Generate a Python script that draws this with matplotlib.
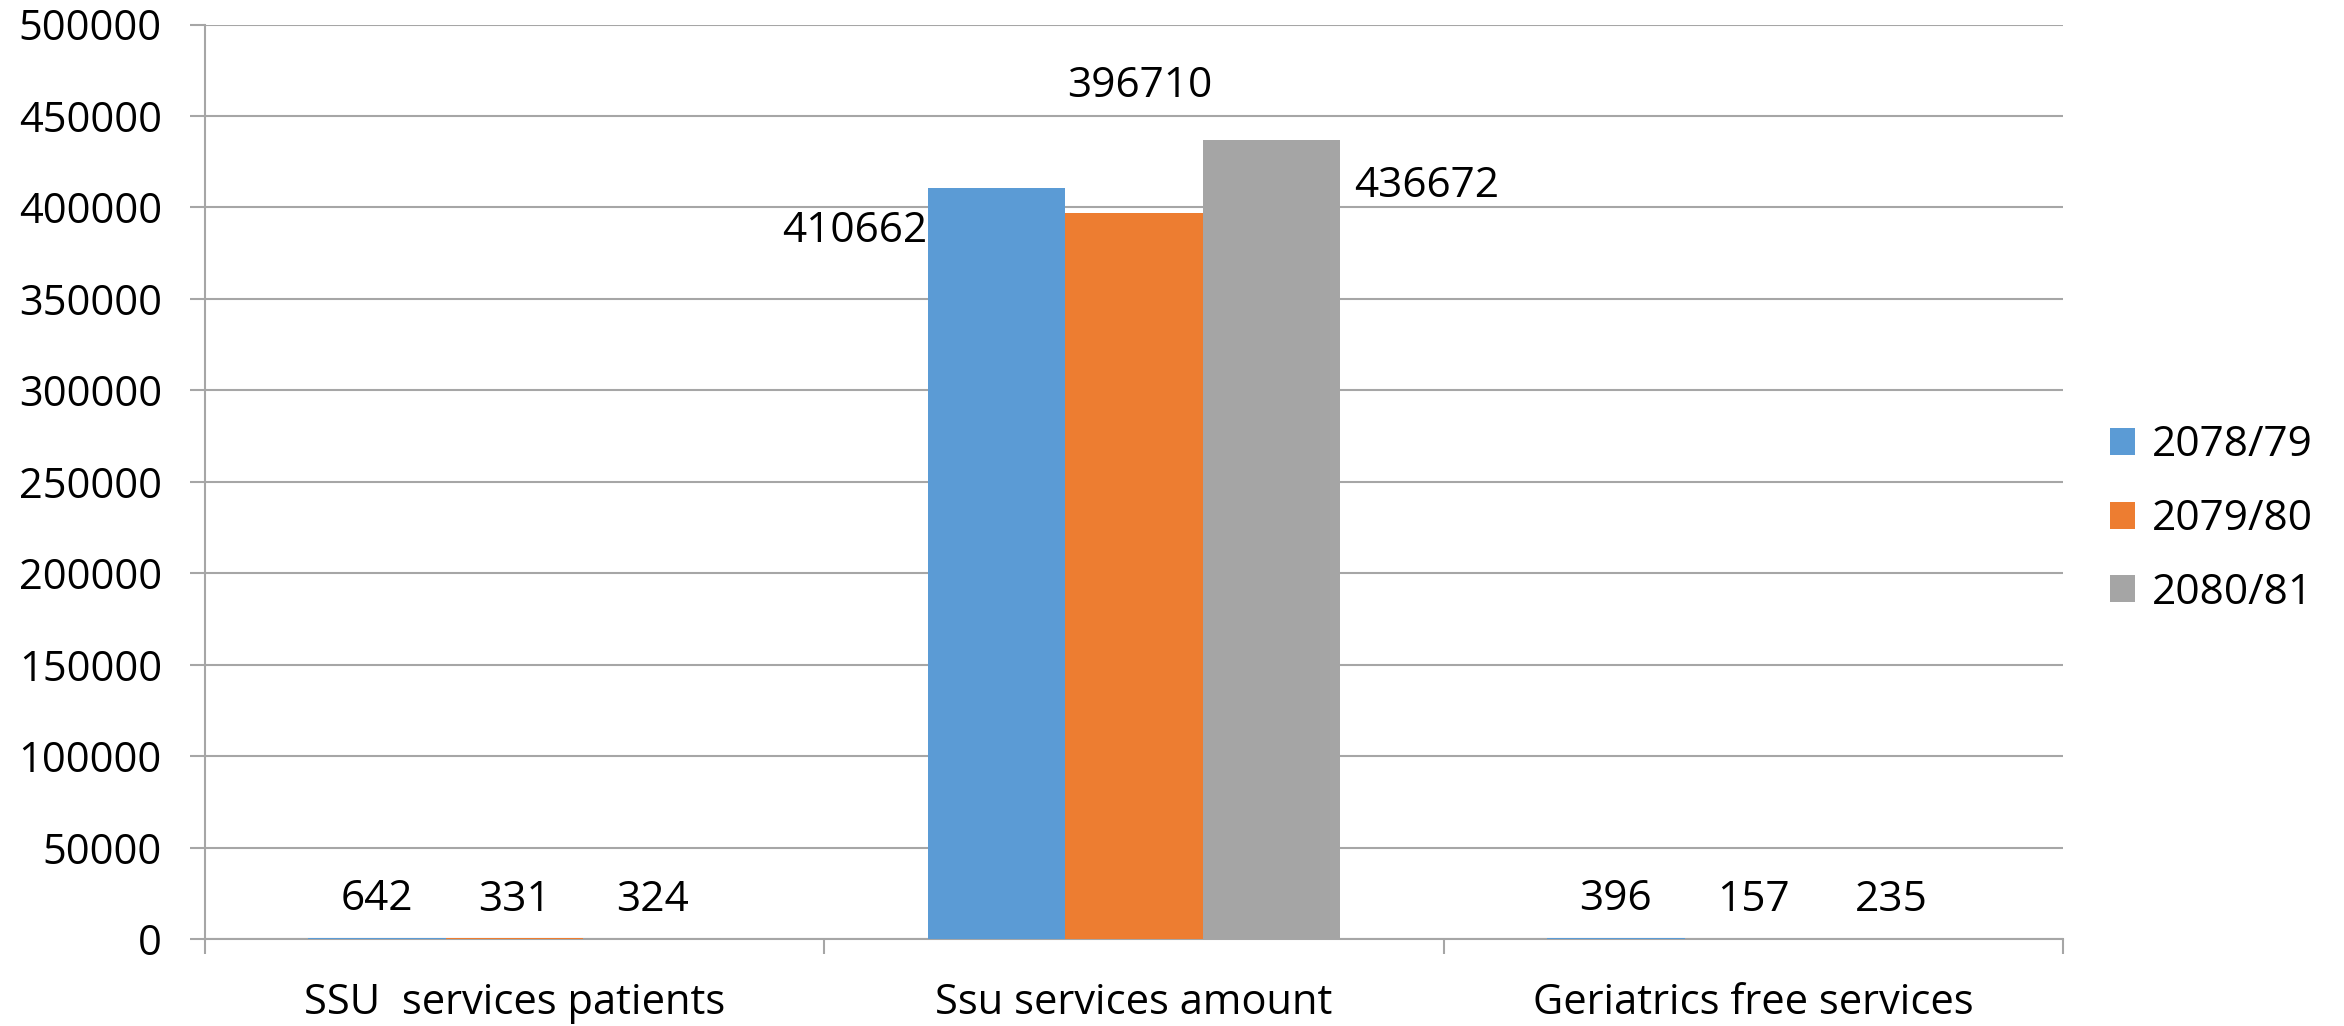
import matplotlib
matplotlib.use("Agg")
import matplotlib.pyplot as plt
import numpy as np

categories = ["SSU  services patients", "Ssu services amount", "Geriatrics free services"]
series_names = ["2078/79", "2079/80", "2080/81"]
values_2078_79 = [642, 410662, 396]
values_2079_80 = [331, 396710, 157]
values_2080_81 = [324, 436672, 235]
yticks = [0, 50000, 100000, 150000, 200000, 250000, 300000, 350000, 400000, 450000, 500000]

colors = ["#5B9BD5", "#ED7D31", "#A5A5A5"]
plt.rcParams['font.family'] = ['Open Sans', 'DejaVu Sans']

W, H, DPI = 2344, 1026, 100
fig = plt.figure(figsize=(W / DPI, H / DPI), dpi=DPI)
ax = fig.add_axes([205 / W, 87 / H, (2063 - 205) / W, (939 - 24.5) / H])

series = [values_2078_79, values_2079_80, values_2080_81]
x = np.arange(len(categories))
bw = 1 / 4.5
grid_c = "#a6a6a6"

bars_all = []
for i, (name, vals) in enumerate(zip(series_names, series)):
    bars = ax.bar(x + (i - 1) * bw, vals, bw, color=colors[i], label=name, zorder=3)
    bars_all.append(bars)

ax.set_xlim(-0.5, len(categories) - 0.5)
ax.set_ylim(0, 500000)
ax.set_yticks(yticks)
ax.set_yticklabels([str(v) for v in yticks])
ax.yaxis.grid(True, color=grid_c, linewidth=1.5, zorder=0)
ax.set_axisbelow(True)
for s in ["top", "right"]:
    ax.spines[s].set_visible(False)
for s in ["left", "bottom"]:
    ax.spines[s].set_color(grid_c)
    ax.spines[s].set_linewidth(1.5)

fs = 30.5
ax.set_xticks(x)
ax.set_xticklabels(categories)
ax.set_xticks(np.arange(-0.5, len(categories)), minor=True)
ax.tick_params(axis='x', which='major', length=0, pad=31, labelsize=30)
ax.tick_params(axis='x', which='minor', length=11, width=1.5, color=grid_c)
ax.tick_params(axis='y', length=11, width=1.5, color=grid_c, labelsize=30, pad=20)

# data labels
for i, bars in enumerate(bars_all):
    for j, b in enumerate(bars):
        v = series[i][j]
        cx = b.get_x() + b.get_width() / 2
        top = b.get_height()
        if j != 1:
            ax.annotate(str(v), (cx, top), xytext=(0, 28), textcoords='offset points',
                        ha='center', va='center', fontsize=fs)
        else:
            if i == 0:
                ax.annotate(str(v), (b.get_x(), top), xytext=(0, -31), textcoords='offset points',
                            ha='right', va='center', fontsize=fs)
            elif i == 1:
                ax.annotate(str(v), (cx, top), xytext=(4, 92), textcoords='offset points',
                            ha='center', va='center', fontsize=fs)
            else:
                ax.annotate(str(v), (b.get_x() + b.get_width(), top), xytext=(10, -33),
                            textcoords='offset points', ha='left', va='center', fontsize=fs)

fig.legend(loc='center left', bbox_to_anchor=(2110 / W, 1 - 519 / H),
           frameon=False, fontsize=fs, handlelength=0.6, handleheight=0.6,
           handletextpad=0.4, labelspacing=0.75, borderaxespad=0, borderpad=0)

fig.savefig("out.png", dpi=DPI)
